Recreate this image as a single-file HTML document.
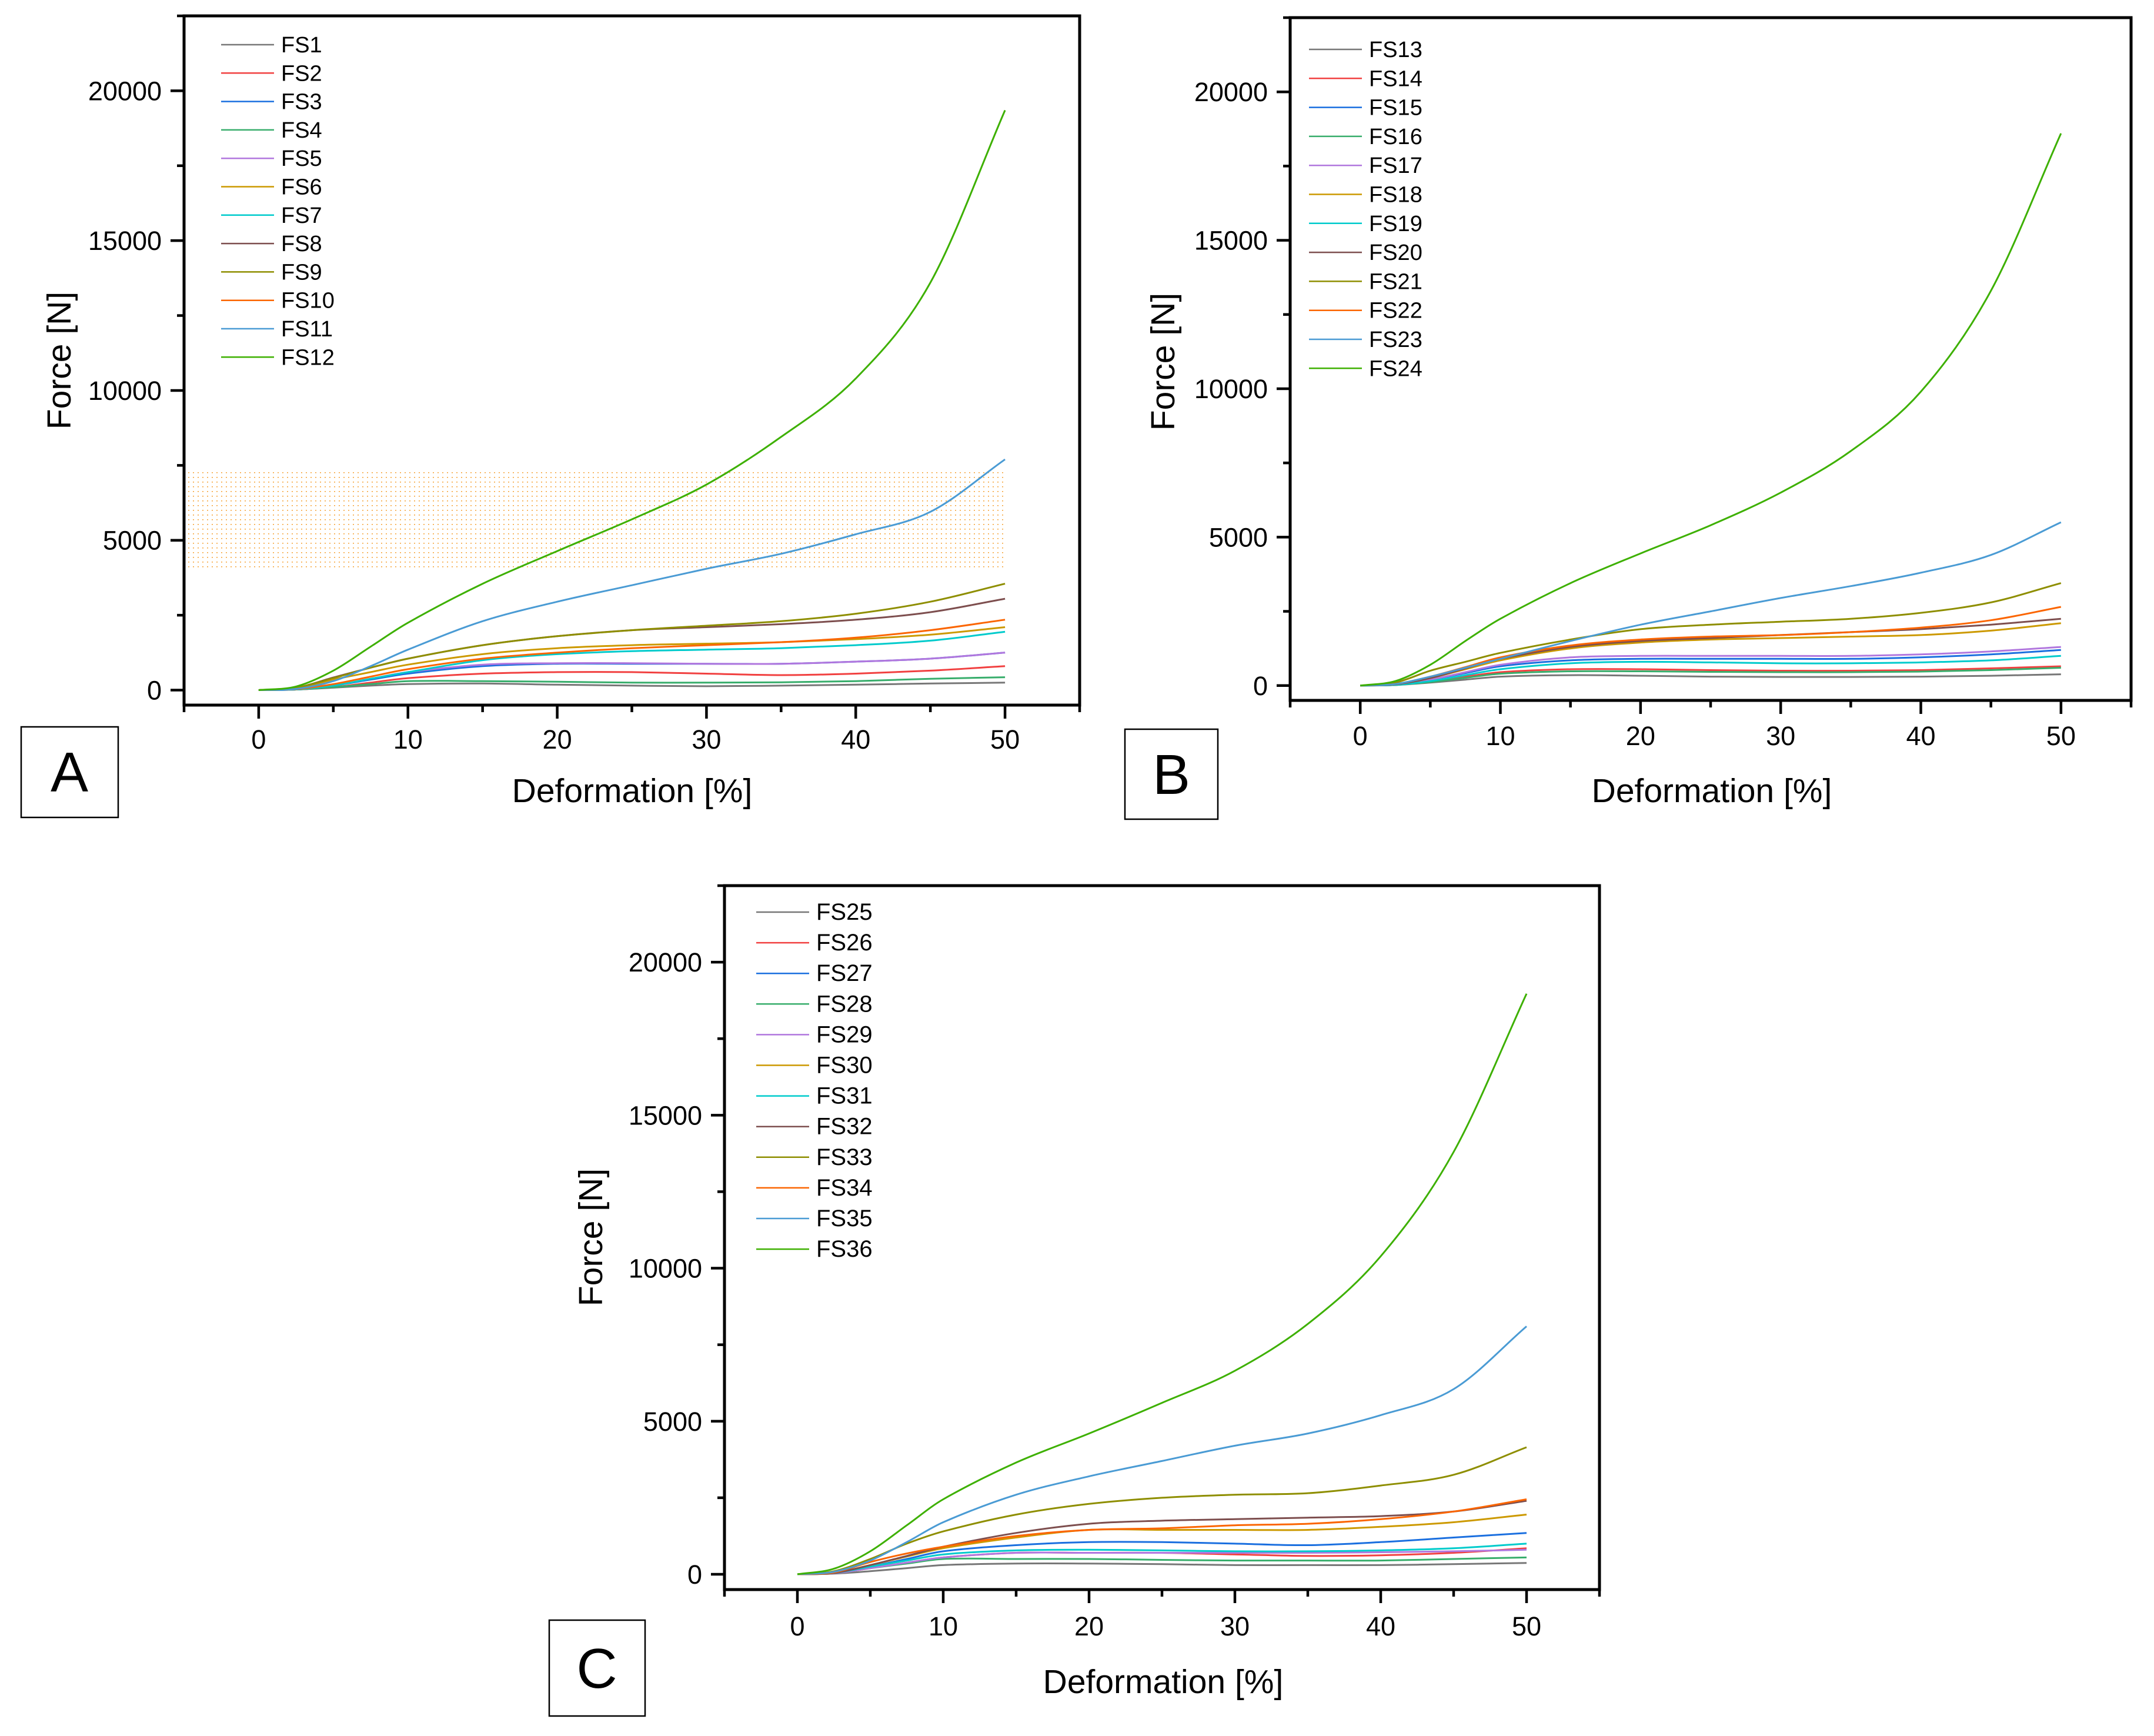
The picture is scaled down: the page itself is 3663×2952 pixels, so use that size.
<!DOCTYPE html>
<html><head><meta charset="utf-8"><style>
html,body{margin:0;padding:0;background:#fff;}
svg{display:block;font-family:"Liberation Sans",Arial,sans-serif;}
</style></head><body>
<svg id="fig" width="3663" height="2952" viewBox="0 0 3663 2952" xmlns="http://www.w3.org/2000/svg">
<defs>
<pattern id="dots" x="0" y="0" width="8" height="8" patternUnits="userSpaceOnUse"><rect x="0" y="3" width="2" height="1.5" fill="#F5A030"/></pattern>
</defs>
<rect width="3663" height="2952" fill="#fff"/>
<rect x="316" y="799" width="1392" height="170" fill="url(#dots)"/>
<g id="layer"></g>
<g><rect x="36" y="1236" width="165" height="154" fill="none" stroke="#000" stroke-width="2.5"/><text x="118" y="1346" font-size="96" text-anchor="middle">A</text></g>
<g><rect x="1913" y="1240" width="158" height="153" fill="none" stroke="#000" stroke-width="2.5"/><text x="1992" y="1350" font-size="96" text-anchor="middle">B</text></g>
<g><rect x="934" y="2755" width="163" height="163" fill="none" stroke="#000" stroke-width="2.5"/><text x="1015" y="2870" font-size="96" text-anchor="middle">C</text></g>
</svg>
<script>
const xValues = [0, 2.5, 5, 7.5, 10, 15, 20, 25, 30, 35, 40, 45, 50];
const xTicks = [0, 10, 20, 30, 40, 50];
const yTicks = [0, 5000, 10000, 15000, 20000];
const colors = ["#777777","#F14040","#1A6FDF","#37AD6B","#B177DE","#CC9900","#00CBCC","#7D4E4E","#8E8E00","#FB6501","#4A9BD4","#3DB000"];

const namesA = ["FS1","FS2","FS3","FS4","FS5","FS6","FS7","FS8","FS9","FS10","FS11","FS12"];
const fs1 = [0,20,80,150,200,220,180,150,130,150,180,220,250];
const fs2 = [0,20,100,250,400,550,600,600,550,500,550,650,800];
const fs3 = [0,20,150,350,550,800,880,880,880,880,950,1050,1250];
const fs4 = [0,20,100,200,300,300,280,250,250,260,300,380,430];
const fs5 = [0,20,150,380,600,850,900,900,880,880,950,1050,1250];
const fs6 = [0,60,350,600,850,1200,1400,1500,1550,1600,1700,1850,2100];
const fs7 = [0,20,150,380,600,1000,1200,1300,1350,1400,1500,1650,1950];
const fs8 = [0,80,420,750,1050,1500,1800,2000,2100,2200,2350,2600,3050];
const fs9 = [0,80,400,750,1050,1500,1800,2000,2150,2300,2550,2950,3550];
const fs10 = [0,30,200,450,700,1050,1250,1400,1500,1600,1750,2000,2350];
const fs11 = [0,40,300,800,1350,2300,2950,3500,4050,4550,5200,5950,7700];
const fs12 = [0,120,650,1450,2250,3550,4640,5700,6860,8450,10400,13600,19350];
const seriesA = [fs1,fs2,fs3,fs4,fs5,fs6,fs7,fs8,fs9,fs10,fs11,fs12];

const namesB = ["FS13","FS14","FS15","FS16","FS17","FS18","FS19","FS20","FS21","FS22","FS23","FS24"];
const fs13 = [0,20,100,200,300,350,330,300,290,290,300,330,380];
const fs14 = [0,20,150,300,450,550,550,520,500,500,520,580,650];
const fs15 = [0,30,200,420,650,850,900,900,900,900,950,1050,1200];
const fs16 = [0,20,120,260,400,480,480,460,450,450,470,520,600];
const fs17 = [0,30,200,450,700,950,1000,1000,1000,1000,1050,1150,1300];
const fs18 = [0,40,250,550,850,1250,1450,1550,1600,1650,1700,1850,2100];
const fs19 = [0,20,150,350,550,750,800,780,750,750,780,850,1000];
const fs20 = [0,40,250,580,900,1300,1500,1600,1700,1800,1900,2050,2250];
const fs21 = [0,100,500,800,1100,1550,1900,2050,2150,2250,2450,2800,3450];
const fs22 = [0,50,300,620,950,1350,1550,1650,1700,1800,1950,2200,2650];
const fs23 = [0,50,300,600,900,1500,2050,2500,2950,3350,3800,4400,5500];
const fs24 = [0,150,700,1500,2250,3450,4450,5400,6500,7900,9900,13300,18600];
const seriesB = [fs13,fs14,fs15,fs16,fs17,fs18,fs19,fs20,fs21,fs22,fs23,fs24];

const namesC = ["FS25","FS26","FS27","FS28","FS29","FS30","FS31","FS32","FS33","FS34","FS35","FS36"];
const fs25 = [0,20,100,200,300,350,350,330,300,300,300,330,370];
const fs26 = [0,30,200,380,550,700,700,700,650,600,620,700,850];
const fs27 = [0,40,250,500,750,950,1050,1050,1000,950,1050,1200,1350];
const fs28 = [0,30,200,350,500,500,500,470,450,450,450,500,550];
const fs29 = [0,30,200,380,550,700,700,700,700,700,720,750,800];
const fs30 = [0,40,300,580,850,1200,1450,1450,1450,1450,1550,1700,1950];
const fs31 = [0,40,250,450,650,780,800,780,750,750,780,850,1000];
const fs32 = [0,40,300,600,900,1350,1650,1750,1800,1850,1900,2050,2400];
const fs33 = [0,100,500,1000,1400,1950,2300,2500,2600,2650,2900,3250,4150];
const fs34 = [0,60,400,680,900,1250,1450,1500,1600,1650,1800,2050,2450];
const fs35 = [0,80,450,1050,1700,2600,3200,3700,4200,4600,5200,6050,8100];
const fs36 = [0,180,750,1600,2450,3650,4600,5600,6650,8180,10390,13800,18970];
const seriesC = [fs25,fs26,fs27,fs28,fs29,fs30,fs31,fs32,fs33,fs34,fs35,fs36];

const NS = "http://www.w3.org/2000/svg";
const layer = document.getElementById("layer");
function mk(tag, attrs, parent) {
  const e = document.createElementNS(NS, tag);
  for (const k in attrs) e.setAttribute(k, attrs[k]);
  (parent || layer).appendChild(e);
  return e;
}
function smoothPath(pts) {
  let d = "M" + pts[0][0].toFixed(1) + "," + pts[0][1].toFixed(1);
  for (let i = 0; i < pts.length - 1; i++) {
    const p0 = pts[Math.max(0, i - 1)], p1 = pts[i], p2 = pts[i + 1], p3 = pts[Math.min(pts.length - 1, i + 2)];
    const h = p2[0] - p1[0];
    const m1 = (p2[1] - p0[1]) / (p2[0] - p0[0] || 1);
    const m2 = (p3[1] - p1[1]) / (p3[0] - p1[0] || 1);
    const c1x = p1[0] + h / 3, c1y = p1[1] + m1 * h / 3;
    const c2x = p2[0] - h / 3, c2y = p2[1] - m2 * h / 3;
    d += " C" + c1x.toFixed(1) + "," + c1y.toFixed(1) + " " + c2x.toFixed(1) + "," + c2y.toFixed(1) + " " + p2[0].toFixed(1) + "," + p2[1].toFixed(1);
  }
  return d;
}
function panel(P, names, series, key) {
  const g = mk("g", {});
  
  
  const sx = v => P.x0 + (v - (-5)) / 60 * (P.x1 - P.x0);
  const sy = v => P.yb - (v - (-500)) / 23000 * (P.yb - P.yt);
  series.forEach((s, i) => {
    const pts = xValues.map((xv, j) => [sx(xv), sy(s[j])]);
    const p = mk("path", {d: smoothPath(pts), fill: "none", stroke: colors[i], "stroke-width": 3, "stroke-linejoin": "round"}, g);
    
    
  });
  const fr = mk("rect", {x: P.x0, y: P.yt, width: P.x1 - P.x0, height: P.yb - P.yt, fill: "none", stroke: "#000", "stroke-width": 5}, g);
  
  
  for (let v = -5; v <= 55; v += 5) {
    const major = xTicks.includes(v);
    const t = mk("line", {x1: sx(v), x2: sx(v), y1: P.yb, y2: P.yb + (major ? 23 : 12), stroke: "#000", "stroke-width": 4.5}, g);
    
    
  }
  xTicks.forEach(v => {
    const t = mk("text", {x: sx(v), y: P.xlab, "font-size": 45, "text-anchor": "middle"}, g);
    t.textContent = v;
    
    
  });
  for (let v = 0; v <= 22500; v += 2500) {
    const major = yTicks.includes(v);
    const t = mk("line", {x1: P.x0, x2: P.x0 - (major ? 23 : 12), y1: sy(v), y2: sy(v), stroke: "#000", "stroke-width": 4.5}, g);
    
    
  }
  yTicks.forEach(v => {
    const t = mk("text", {x: P.x0 - 38, y: sy(v) + 16, "font-size": 45, "text-anchor": "end"}, g);
    t.textContent = v;
    
    
  });
  const xt = mk("text", {x: P.xtx, y: P.xty, "font-size": 57, "text-anchor": "middle"}, g);
  xt.textContent = "Deformation [%]";
  
  
  const yt = mk("text", {x: 0, y: 0, "font-size": 57, "text-anchor": "middle", transform: "translate(" + P.ytx + "," + P.yty + ") rotate(-90)"}, g);
  yt.textContent = "Force [N]";
  
  
  names.forEach((n, i) => {
    const y = P.ly + i * P.lstep;
    const le = mk("g", {}, g);
    
    
    mk("line", {x1: P.lx, x2: P.lx + 90, y1: y, y2: y, stroke: colors[i], "stroke-width": 2.5}, le);
    const t = mk("text", {x: P.lx + 102, y: y + 13, "font-size": P.lfs}, le);
    t.textContent = n;
  });
}
panel({x0: 313, x1: 1836, yt: 27, yb: 1199, xlab: 1273, xtx: 1075, xty: 1364, ytx: 120, yty: 613, lx: 376, ly: 76, lstep: 48.3, lfs: 38}, namesA, seriesA, "a");
panel({x0: 2194, x1: 3624, yt: 30, yb: 1191, xlab: 1267, xtx: 2911, xty: 1364, ytx: 1997, yty: 615, lx: 2226, ly: 84, lstep: 49.3, lfs: 38}, namesB, seriesB, "b");
panel({x0: 1232, x1: 2720, yt: 1506, yb: 2703, xlab: 2781, xtx: 1978, xty: 2879, ytx: 1024, yty: 2104, lx: 1286, ly: 1551, lstep: 52.1, lfs: 40}, namesC, seriesC, "c");
</script>
</body></html>
